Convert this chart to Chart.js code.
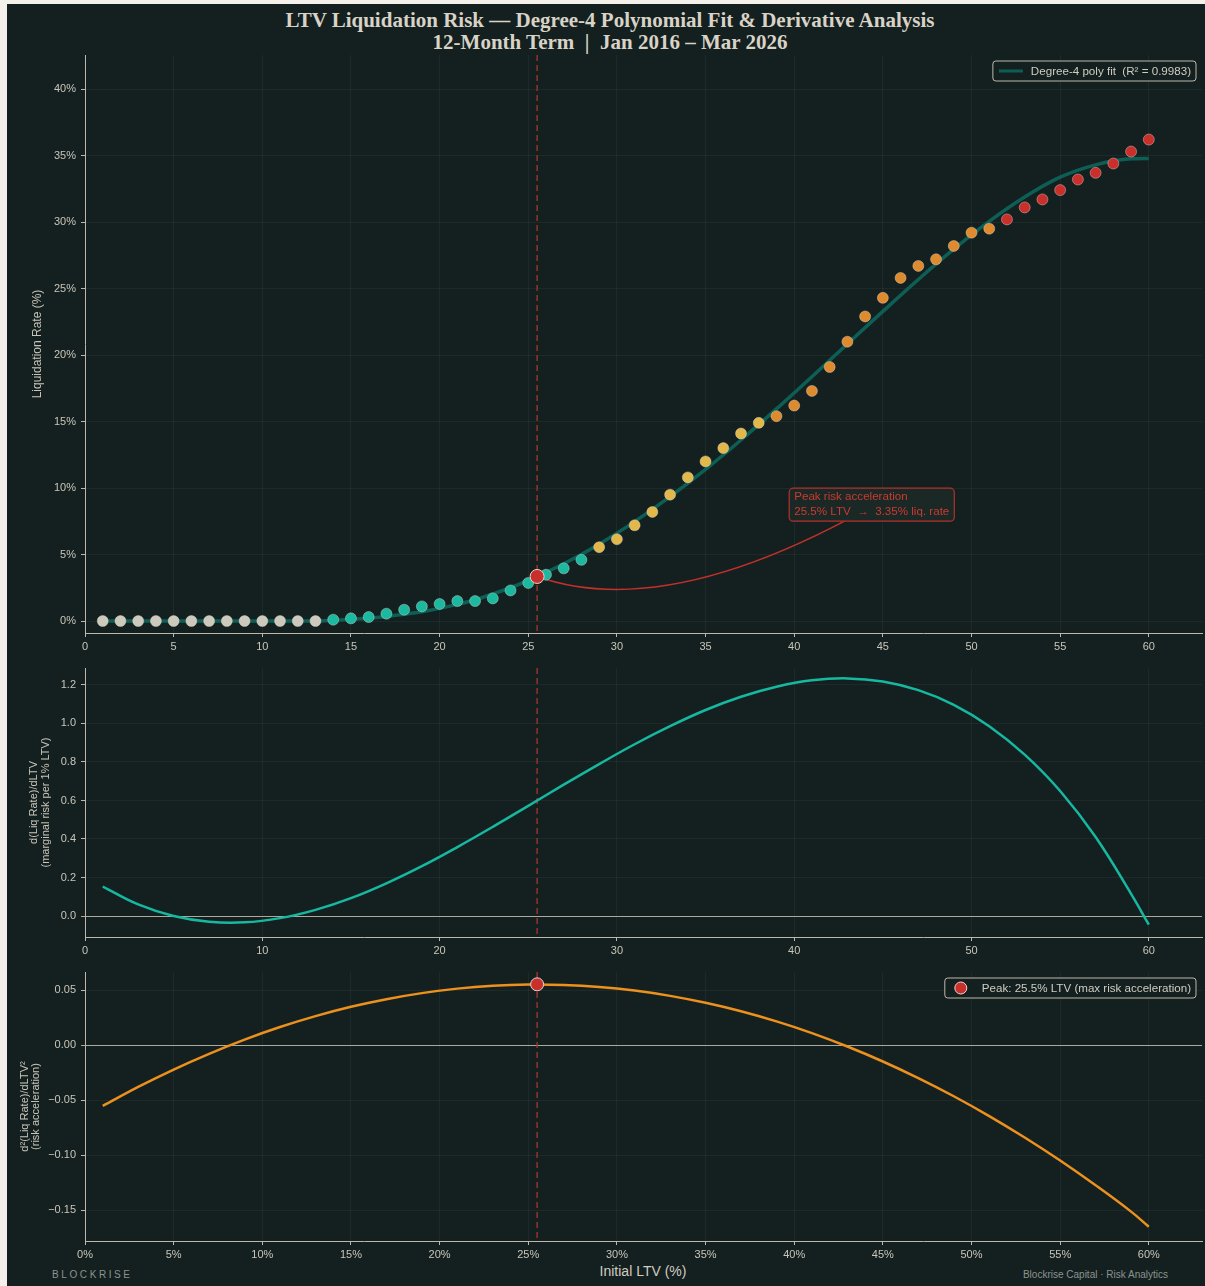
<!DOCTYPE html>
<html>
<head>
<meta charset="utf-8">
<script src="https://cdn.jsdelivr.net/npm/chart.js@4.4.1/dist/chart.umd.min.js"></script>
<style>
  body { margin: 0; background: #f4f1eb; width: 1205px; height: 1286px; overflow: hidden; }
  #fig { position: absolute; left: 7px; top: 4px; width: 1198px; height: 1282px; background: #142020; }
  .panel { position: absolute; left: 0; }
  #title { position: absolute; left: 4px; top: 5px; width: 1198px; text-align: center;
           font-family: "Liberation Serif", "DejaVu Serif", serif; font-weight: bold;
           font-size: 21px; line-height: 22px; color: #d8d3c6; }
  #xlabel { position: absolute; left: 536px; top: 1259px; width: 200px; text-align: center;
            font-family: "Liberation Sans", Arial, sans-serif; font-size: 14px; line-height: 16px; color: #d0ccc0; }
  #brand { position: absolute; left: 45px; top: 1265px; font-family: "Liberation Sans", Arial, sans-serif;
           font-size: 10px; line-height: 12px; letter-spacing: 2.6px; color: #8c938e; }
  #credit { position: absolute; right: 37px; top: 1265px; font-family: "Liberation Sans", Arial, sans-serif;
            font-size: 10px; line-height: 12px; color: #8c938e; }
</style>
</head>
<body>
<div id="fig">
  <div id="title">LTV Liquidation Risk — Degree-4 Polynomial Fit &amp; Derivative Analysis<br>12-Month Term &nbsp;|&nbsp; Jan 2016 – Mar 2026</div>
  <canvas id="rateChart" class="panel" width="1198" height="651" style="top:0px"></canvas>
  <canvas id="slopeChart" class="panel" width="1198" height="304" style="top:651px"></canvas>
  <canvas id="accelChart" class="panel" width="1198" height="304" style="top:955px"></canvas>
  <div id="xlabel">Initial LTV (%)</div>
  <div id="brand">BLOCKRISE</div>
  <div id="credit">Blockrise Capital · Risk Analytics</div>
</div>
<script>
// Observed liquidation rate per initial LTV bucket
const ltv = [1, 2, 3, 4, 5, 6, 7, 8, 9, 10, 11, 12, 13, 14, 15, 16, 17, 18, 19, 20,
             21, 22, 23, 24, 25, 26, 27, 28, 29, 30, 31, 32, 33, 34, 35, 36, 37, 38, 39, 40,
             41, 42, 43, 44, 45, 46, 47, 48, 49, 50, 51, 52, 53, 54, 55, 56, 57, 58, 59, 60];
const liqRate = [0, 0, 0, 0, 0, 0, 0, 0, 0, 0, 0, 0, 0, 0.1, 0.2, 0.3, 0.55, 0.85, 1.1, 1.28,
                 1.5, 1.5, 1.7, 2.3, 2.86, 3.48, 3.96, 4.6, 5.55, 6.15, 7.2, 8.2, 9.5, 10.8, 12.0, 13.0, 14.1, 14.9, 15.4, 16.2,
                 17.3, 19.1, 21.0, 22.9, 24.3, 25.8, 26.7, 27.2, 28.2, 29.2, 29.5, 30.2, 31.1, 31.7, 32.4, 33.2, 33.7, 34.4, 35.3, 36.2];

// Degree-4 fit (clipped at 0)
const fitLtv = [1, 3, 5, 7, 9, 11, 13, 14, 15, 16, 17, 18, 19, 20, 21, 22, 23, 24, 25,
                27, 29, 31, 33, 35, 37, 39, 41, 43, 45, 47, 49, 51, 53, 55, 57, 59, 60];
const fitRate = [0, 0, 0, 0, 0, 0, 0, 0.05, 0.12, 0.21, 0.34, 0.5, 0.7, 0.95, 1.25, 1.6, 2.03, 2.5, 3.06,
                 4.31, 5.78, 7.47, 9.35, 11.4, 13.61, 15.95, 18.37, 20.83, 23.28, 25.68, 27.96, 30.05, 31.88, 33.37, 34.3, 34.75, 34.78];

// First and second derivative of the fit
const derivLtv = [1, 3, 5, 7, 9, 11, 13, 15, 17, 19, 21, 23, 25, 27, 29, 31, 33, 35, 37, 39,
                  41, 43, 45, 47, 49, 51, 53, 55, 57, 59, 60];
const slope = [0.153, 0.060, 0.000, -0.030, -0.033, -0.011, 0.032, 0.093, 0.170, 0.259, 0.358, 0.463, 0.572, 0.682, 0.789, 0.892, 0.986, 1.070, 1.139, 1.191,
               1.224, 1.234, 1.218, 1.173, 1.097, 0.986, 0.838, 0.649, 0.410, 0.115, -0.045];
const accel = [-0.0553, -0.0380, -0.0222, -0.0079, 0.0050, 0.0164, 0.0263, 0.0348, 0.0417, 0.0472, 0.0513, 0.0539, 0.0550, 0.0546, 0.0528, 0.0495, 0.0447, 0.0384, 0.0307, 0.0215,
               0.0109, -0.0013, -0.0149, -0.0300, -0.0465, -0.0645, -0.0840, -0.1049, -0.1274, -0.1513, -0.1650];

// Peak risk acceleration
const peakLtv = 25.5;
const peakRate = 3.35;
const peakAccel = 0.0552;

// Annotation anchors (data units)
const noteAt = [40, 8.75];
const noteArrowFrom = [43.1, 7.7];
const noteArrowBend = [32.4, 0.1];

const axisColor = '#bdb8aa';
const textColor = '#c9c5b9';
const gridColor = 'rgba(255,255,255,0.045)';
const redColor = '#c9302c';
const sansFont = '"Liberation Sans", Arial, sans-serif';
const boxFont = '11.6px ' + sansFont;

Chart.defaults.font.family = sansFont;
Chart.defaults.font.size = 11;
Chart.defaults.color = textColor;
Chart.defaults.animation = false;
Chart.defaults.events = [];
Chart.defaults.plugins.legend.display = false;
Chart.defaults.plugins.tooltip.enabled = false;

function riskColor(v) {
    if (v === 0) return '#cdc9bd';
    if (v < 5) return '#1ab9a0';
    if (v < 15) return '#e2b84a';
    if (v < 30) return '#e08a2e';
    return redColor;
}

function xAxis(step, fmt) {
    return {
        type: 'linear', min: 0, max: 63,
        afterFit: s => { s.height = 22; s.paddingLeft = 0; s.paddingRight = 0; },
        border: { display: true, color: axisColor, width: 1 },
        grid: { color: gridColor, tickColor: axisColor, tickLength: 4 },
        ticks: { stepSize: step, includeBounds: false, maxRotation: 0, autoSkip: false, padding: 3, color: textColor,
                 callback: fmt }
    };
}

function yAxis(min, max, step, fmt, title) {
    return {
        type: 'linear', min: min, max: max,
        afterFit: s => { s.width = 78; },
        border: { display: true, color: axisColor, width: 1 },
        grid: {
            color: ctx => Math.abs(ctx.tick.value) < 1e-9 && title.zeroLine ? axisColor : gridColor,
            lineWidth: ctx => Math.abs(ctx.tick.value) < 1e-9 && title.zeroLine ? 0.9 : 1,
            tickColor: axisColor, tickLength: 4
        },
        ticks: { stepSize: step, includeBounds: false, padding: 5, color: textColor, callback: fmt },
        title: { display: true, text: title.text, color: textColor,
                 font: { size: title.size, lineHeight: title.lineHeight }, padding: { top: title.pad, bottom: 0 } }
    };
}

// Vertical dashed marker at peak LTV
const peakLinePlugin = {
    id: 'peakLine',
    beforeDatasetsDraw(chart) {
        const { ctx, chartArea } = chart;
        const x = chart.scales.x.getPixelForValue(peakLtv);
        ctx.save();
        ctx.strokeStyle = '#a8352e';
        ctx.lineWidth = 1.3;
        ctx.setLineDash([6, 4]);
        ctx.beginPath();
        ctx.moveTo(x, chartArea.top);
        ctx.lineTo(x, chartArea.bottom);
        ctx.stroke();
        ctx.restore();
    }
};

// Legend box in the top-right corner of the plot
function drawLegend(chart, text, symbol) {
    const { ctx, chartArea } = chart;
    ctx.save();
    ctx.font = boxFont;
    const tw = ctx.measureText(text).width;
    const symW = symbol === 'line' ? 32 : 31;
    const w = 6 + symW + tw + 5;
    const h = 20;
    const right = chartArea.right - 6;
    const left = right - w;
    const top = chartArea.top + 6;
    ctx.beginPath();
    ctx.roundRect(left, top, w, h, 3);
    ctx.fillStyle = 'rgba(20,32,32,0.9)';
    ctx.fill();
    ctx.strokeStyle = '#bdb8aa';
    ctx.lineWidth = 1;
    ctx.stroke();
    const cy = top + h / 2;
    if (symbol === 'line') {
        ctx.strokeStyle = '#0d5f55';
        ctx.lineWidth = 3;
        ctx.beginPath();
        ctx.moveTo(left + 6, cy);
        ctx.lineTo(left + 30, cy);
        ctx.stroke();
    } else {
        ctx.beginPath();
        ctx.arc(left + 16, cy, 6, 0, Math.PI * 2);
        ctx.fillStyle = redColor;
        ctx.fill();
        ctx.strokeStyle = '#e6d6cf';
        ctx.lineWidth = 1;
        ctx.stroke();
    }
    ctx.fillStyle = '#d0ccc0';
    ctx.textBaseline = 'middle';
    ctx.fillText(text, left + 6 + symW, cy + 0.5);
    ctx.restore();
}

// Peak annotation with curved connector
const peakNotePlugin = {
    id: 'peakNote',
    beforeDatasetsDraw(chart) {
        const { ctx } = chart;
        const px = v => chart.scales.x.getPixelForValue(v);
        const py = v => chart.scales.y.getPixelForValue(v);
        ctx.save();
        ctx.strokeStyle = '#c4302a';
        ctx.lineWidth = 1.5;
        ctx.beginPath();
        ctx.moveTo(px(noteArrowFrom[0]), py(noteArrowFrom[1]));
        ctx.quadraticCurveTo(px(noteArrowBend[0]), py(noteArrowBend[1]), px(peakLtv), py(peakRate));
        ctx.stroke();

        const lines = ['Peak risk acceleration', '25.5% LTV  \u2192  3.35% liq. rate'];
        ctx.font = boxFont;
        const tw = Math.max(...lines.map(l => ctx.measureText(l).width));
        const x0 = px(noteAt[0]);
        const y0 = py(noteAt[1]);
        ctx.beginPath();
        ctx.roundRect(x0 - 5, y0 - 16.5, tw + 10, 33, 4);
        ctx.fillStyle = '#1a2826';
        ctx.fill();
        ctx.strokeStyle = '#b3322b';
        ctx.lineWidth = 1.2;
        ctx.stroke();
        ctx.fillStyle = '#cc3a30';
        ctx.textBaseline = 'middle';
        ctx.fillText(lines[0], x0, y0 - 7.5);
        ctx.fillText(lines[1], x0, y0 + 7.5);
        ctx.restore();
    }
};

// Liquidation rate chart
new Chart(document.getElementById('rateChart').getContext('2d'), {
    type: 'scatter',
    data: {
        datasets: [{
            label: 'Peak',
            data: [{ x: peakLtv, y: peakRate }],
            pointRadius: 7,
            pointBackgroundColor: redColor,
            pointBorderColor: '#e6d6cf',
            pointBorderWidth: 1,
            order: 0
        }, {
            label: 'Observed',
            data: ltv.map((x, i) => ({ x: x, y: liqRate[i] })),
            pointRadius: 5.5,
            pointBackgroundColor: liqRate.map(riskColor),
            pointBorderColor: 'rgba(230,225,215,0.5)',
            pointBorderWidth: 0.8,
            order: 1
        }, {
            label: 'Degree-4 poly fit',
            data: fitLtv.map((x, i) => ({ x: x, y: fitRate[i] })),
            showLine: true,
            borderColor: '#0d5f55',
            borderWidth: 3.5,
            pointRadius: 0,
            cubicInterpolationMode: 'monotone',
            order: 2
        }]
    },
    options: {
        responsive: false,
        devicePixelRatio: 1,
        layout: { autoPadding: false, padding: { top: 51, right: 3, left: 0, bottom: 0 } },
        scales: {
            x: xAxis(5, v => v),
            y: yAxis(-0.902, 42.56, 5, v => v + '%',
                     { text: 'Liquidation Rate (%)', size: 12, lineHeight: 1.2, pad: 23 })
        }
    },
    plugins: [peakLinePlugin, peakNotePlugin, {
        id: 'fitLegend',
        afterDatasetsDraw(chart) { drawLegend(chart, 'Degree-4 poly fit  (R\u00b2 = 0.9983)', 'line'); }
    }]
});

// First derivative chart
new Chart(document.getElementById('slopeChart').getContext('2d'), {
    type: 'scatter',
    data: {
        datasets: [{
            label: 'Slope',
            data: derivLtv.map((x, i) => ({ x: x, y: slope[i] })),
            showLine: true,
            borderColor: '#17b8a0',
            borderWidth: 2.5,
            pointRadius: 0,
            tension: 0.4
        }]
    },
    options: {
        responsive: false,
        devicePixelRatio: 1,
        layout: { autoPadding: false, padding: { top: 13, right: 3, left: 0, bottom: 0 } },
        scales: {
            x: xAxis(10, v => v),
            y: yAxis(-0.109, 1.288, 0.2, v => v.toFixed(1),
                     { text: ['d(Liq Rate)/dLTV', '(marginal risk per 1% LTV)'], size: 11, lineHeight: 1.1, pad: 21, zeroLine: true })
        }
    },
    plugins: [peakLinePlugin]
});

// Second derivative chart
new Chart(document.getElementById('accelChart').getContext('2d'), {
    type: 'scatter',
    data: {
        datasets: [{
            label: 'Peak',
            data: [{ x: peakLtv, y: peakAccel }],
            pointRadius: 6.5,
            pointBackgroundColor: redColor,
            pointBorderColor: '#e6d6cf',
            pointBorderWidth: 1,
            order: 0
        }, {
            label: 'Acceleration',
            data: derivLtv.map((x, i) => ({ x: x, y: accel[i] })),
            showLine: true,
            borderColor: '#ec901e',
            borderWidth: 2.5,
            pointRadius: 0,
            tension: 0.4,
            order: 1
        }]
    },
    options: {
        responsive: false,
        devicePixelRatio: 1,
        layout: { autoPadding: false, padding: { top: 13, right: 3, left: 0, bottom: 0 } },
        scales: {
            x: xAxis(5, v => v + '%'),
            y: yAxis(-0.178, 0.0664, 0.05, v => v.toFixed(2).replace('-', '\u2212'),
                     { text: ['d\u00b2(Liq Rate)/dLTV\u00b2', '(risk acceleration)'], size: 11, lineHeight: 1.0, pad: 12.5, zeroLine: true })
        }
    },
    plugins: [peakLinePlugin, {
        id: 'peakLegend',
        afterDatasetsDraw(chart) { drawLegend(chart, 'Peak: 25.5% LTV (max risk acceleration)', 'dot'); }
    }]
});
</script>
</body>
</html>
